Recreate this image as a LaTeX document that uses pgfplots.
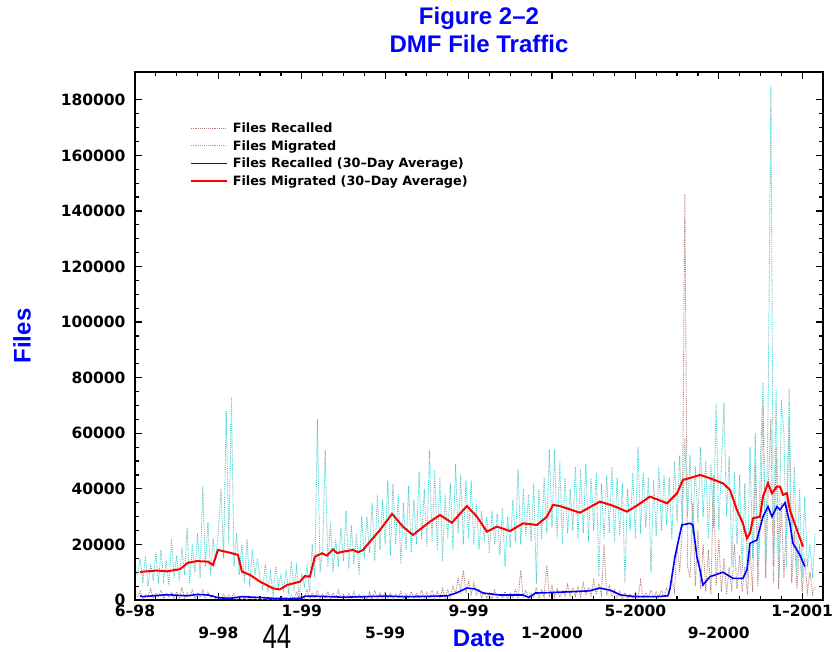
\documentclass[border=0pt]{standalone}
\usepackage{fontspec}
\usepackage{pgfplots}
\usepackage{pgfplotstable}
\pgfplotsset{compat=1.18}
\newfontfamily\djv{DejaVu Sans}
\newfontfamily\lib{Liberation Sans}
\definecolor{migc}{RGB}{68,204,204}
\definecolor{recc}{RGB}{176,128,120}
\definecolor{tblue}{RGB}{0,0,255}

\pgfplotstableread{
x mig rec
0.125 9000 1000
0.25 15000 3000
0.375 6000 500
0.5 16000 2000
0.625 5000 1500
0.75 13000 4000
0.875 7000 800
1.0 17000 2500
1.125 6000 1200
1.25 18000 3500
1.375 7000 500
1.5 14000 2200
1.625 5000 1000
1.75 22000 2800
1.875 8000 600
2.0 16000 3000
2.125 7000 900
2.25 19000 4500
2.375 9000 700
2.5 26000 2600
2.625 6000 1200
2.75 20000 3800
2.875 10000 500
3.0 24000 2400
3.125 8000 1000
3.25 41000 3500
3.375 12000 600
3.5 28000 2800
3.625 9000 800
3.75 22000 2000
3.875 14000 500
4.0 25000 1500
4.125 40000 400
4.25 15000 2200
4.375 68000 300
4.5 20000 1800
4.625 73000 500
4.75 12000 2500
4.875 24000 300
5.0 9000 1200
5.125 20000 200
5.25 6000 800
5.375 22000 100
5.5 5000 1000
5.625 18000 300
5.75 9000 900
5.875 15000 200
6.0 8000 600
6.125 4000 100
6.25 13000 600
6.375 3000 50
6.5 10000 500
6.625 2000 200
6.75 12000 400
6.875 5000 100
7.0 9000 800
7.125 3000 100
7.25 11000 500
7.375 2000 200
7.5 14000 1500
7.625 4000 300
7.75 12000 3000
7.875 1000 200
8.0 9000 2000
8.125 5000 500
8.25 12000 4000
8.375 3000 300
8.5 20000 2500
8.625 8000 800
8.75 65000 3500
8.875 10000 400
9.0 18000 2000
9.125 54000 600
9.25 12000 3000
9.375 28000 400
9.5 10000 2500
9.625 22000 700
9.75 12000 3500
9.875 26000 500
10.0 14000 2000
10.125 32000 300
10.25 11000 2500
10.375 27000 400
10.5 13000 3000
10.625 24000 600
10.75 9000 2000
10.875 30000 300
11.0 15000 1500
11.125 30000 500
11.25 17000 2800
11.375 35000 300
11.5 14000 3500
11.625 38000 600
11.75 18000 2500
11.875 36000 400
12.0 20000 3000
12.125 43000 500
12.25 16000 2500
12.375 42000 300
12.5 20000 2000
12.625 38000 700
12.75 13000 3000
12.875 35000 400
13.0 18000 2200
13.125 41000 600
13.25 17000 3000
13.375 36000 500
13.5 20000 2500
13.625 46000 800
13.75 22000 3500
13.875 40000 500
14.0 19000 2800
14.125 54000 700
14.25 21000 3500
14.375 47000 600
14.5 18000 3000
14.625 44000 900
14.75 14000 4000
14.875 38000 700
15.0 22000 3800
15.125 42000 1000
15.25 18000 5000
15.375 49000 2000
15.5 24000 8000
15.625 45000 3000
15.75 20000 10800
15.875 43000 2500
16.0 22000 7000
16.125 43000 2000
16.25 20000 6000
16.375 35000 1500
16.5 18000 4000
16.625 32000 900
16.75 22000 3000
16.875 30000 700
17.0 17000 2500
17.125 32000 500
17.25 20000 3500
17.375 31000 600
17.5 16000 2000
17.625 33000 800
17.75 12000 3000
17.875 30000 500
18.0 19000 2500
18.125 36000 800
18.25 21000 4000
18.375 47000 600
18.5 20000 10800
18.625 40000 700
18.75 23000 3500
18.875 38000 900
19.0 21000 2500
19.125 42000 1000
19.25 6000 4500
19.375 40000 800
19.5 22000 3500
19.625 44000 1200
19.75 24000 12600
19.875 54000 1500
20.0 26000 5000
20.125 54000 1200
20.25 22000 4000
20.375 50000 1000
20.5 20000 3500
20.625 44000 1400
20.75 24000 5500
20.875 40000 1200
21.0 25000 4500
21.125 48000 1500
21.25 22000 5000
21.375 47000 1300
21.5 24000 6000
21.625 49000 1800
21.75 21000 4500
21.875 44000 1600
22.0 25000 7000
22.125 46000 2000
22.25 8400 6000
22.375 42000 1800
22.5 22000 20000
22.625 45000 1500
22.75 24000 5000
22.875 48000 1200
23.0 21000 3500
23.125 44000 700
23.25 23000 3000
23.375 42000 500
23.5 6000 2500
23.625 40000 600
23.75 25000 2000
23.875 46000 500
24.0 22000 3000
24.125 55000 800
24.25 24000 7000
24.375 46000 600
24.5 26000 2500
24.625 44000 900
24.75 10000 3500
24.875 43000 700
25.0 23000 2800
25.125 48000 800
25.25 25000 3500
25.375 45000 1000
25.5 27000 4500
25.625 44000 2000
25.75 22000 8000
25.875 50000 3000
26.0 28000 20000
26.125 52000 10000
26.25 26000 25000
26.375 58000 146000
26.5 30000 12000
26.625 52000 8000
26.75 24000 35000
26.875 48000 5000
27.0 28000 25000
27.125 55000 4000
27.25 30000 20000
27.375 50000 3000
27.5 22000 18000
27.625 49000 2000
27.75 26000 45000
27.875 71000 5000
28.0 25000 22000
28.125 48000 3000
28.25 71000 15000
28.375 30000 2000
28.5 52000 12000
28.625 12000 3000
28.75 46000 20000
28.875 20000 4000
29.0 45000 16000
29.125 10000 3000
29.25 42000 12000
29.375 8000 2000
29.5 55000 18000
29.625 15000 3000
29.75 60000 49000
29.875 12000 5000
30.0 50000 30000
30.125 78000 70000
30.25 10000 8000
30.375 74000 40000
30.5 185000 65000
30.625 12000 6000
30.75 76000 55000
30.875 8000 4000
31.0 72000 35000
31.125 60000 8000
31.25 12000 30000
31.375 76000 65000
31.5 20000 6000
31.625 48000 25000
31.75 10000 4000
31.875 40000 20000
32.0 8000 3000
32.125 37000 15000
32.25 12000 3000
32.375 20000 10000
32.5 8000 2000
32.625 24000 5000
}\daily

\begin{document}
\begin{tikzpicture}
\begin{axis}[name=ax, at={(0,0)}, anchor=south west,
  scale only axis, width=688pt, height=528pt,
  xmin=0, xmax=33, ymin=0, ymax=190000,
  axis line style={line width=1.2pt},
  every tick/.style={line width=1.2pt, black},
  tick align=inside,
  major tick length=7pt, minor tick length=4pt,
  xtick={0,8,16,24,32},
  xticklabels={6–98,1–99,9–99,5–2000,1–2001},
  xticklabel style={yshift=-1pt},
  minor x tick num=7,
  extra x ticks={4,12,20,28},
  extra x tick labels={9–98,5–99,1–2000,9–2000},
  extra x tick style={xticklabel style={yshift=-22pt}},
  ytick={0,20000,40000,60000,80000,100000,120000,140000,160000,180000},
  minor y tick num=3,
  scaled y ticks=false,
  yticklabel style={/pgf/number format/fixed, /pgf/number format/1000 sep={}, xshift=-6pt},
  /pgf/number format/assume math mode=true,
  tick label style={font=\djv\bfseries\fontsize{15.5}{15.5}\selectfont},
  legend style={draw=none, fill=none, at={(0.075,0.912)}, anchor=north west,
    font=\djv\bfseries\fontsize{12.8}{12.8}\selectfont, row sep=2.4pt, column sep=3pt},
  legend cell align=left,
  legend image code/.code={\draw[#1] (0pt,0pt) -- (36pt,0pt);},
]
\addplot[recc, densely dotted, line width=0.9pt] table[x=x,y=rec]{\daily};
\addlegendentry{Files Recalled}
\addplot[migc, densely dotted, line width=0.9pt] table[x=x,y=mig]{\daily};
\addlegendentry{Files Migrated}
\addplot[blue, line width=1.6pt] coordinates {
(0.24,1500)(0.38,1200)(1.53,1900)(2.5,1500)(3.0,2000)(3.5,1800)(4.0,800)(4.56,600)
(5.13,1200)(6.0,900)(6.62,600)(7.5,500)(8.0,700)(8.15,1400)(9.0,1300)(10.0,1000)
(11.0,1200)(12.0,1400)(13.0,1200)(14.0,1300)(15.0,1500)(15.4,2500)(15.92,4300)
(16.3,4000)(16.7,2500)(17.5,1800)(18.61,1800)(18.9,900)(19.2,2500)(20.0,2700)
(21.0,3000)(21.8,3300)(22.30,4300)(22.8,3500)(23.3,1800)(24.0,1200)(25.0,1200)
(25.56,1500)(25.66,4000)(25.90,15600)(26.23,27000)(26.62,27600)(26.76,27000)
(26.95,15600)(27.10,10800)(27.24,5400)(27.58,8400)(28.20,10000)(28.68,7800)
(29.16,7800)(29.35,10800)(29.50,20400)(29.83,21600)(30.12,30000)(30.36,33600)
(30.55,30000)(30.79,33600)(30.94,32500)(31.18,35000)(31.41,27600)(31.56,20400)
(31.89,16200)(32.13,12000)};
\addlegendentry{Files Recalled (30–Day Average)}
\addplot[red, line width=2pt] coordinates {
(0.24,10000)(0.38,10200)(1.06,10600)(1.53,10300)(2.16,11100)(2.54,13400)(2.97,14000)
(3.50,13800)(3.74,12600)(3.98,18000)(4.56,17000)(4.94,16200)(5.13,10200)(5.52,9000)
(6.00,6600)(6.62,4200)(6.95,3800)(7.29,5400)(7.91,6600)(8.15,8600)(8.39,8400)
(8.63,15600)(8.97,16800)(9.21,16000)(9.50,18200)(9.69,16900)(9.98,17400)(10.46,18000)
(10.70,17200)(10.94,18000)(11.27,21000)(11.75,25200)(12.33,31000)(12.85,26400)
(13.33,23400)(13.67,25400)(14.15,28200)(14.63,30600)(15.20,27800)(15.92,33800)
(16.40,30000)(16.88,24600)(17.36,26400)(17.99,24800)(18.61,27600)(19.28,27000)
(19.76,30000)(20.05,34200)(20.38,33800)(21.34,31400)(22.30,35400)(22.93,33900)
(23.60,31800)(24.08,34000)(24.70,37200)(25.52,34800)(26.00,38400)(26.28,43200)
(26.76,44200)(27.10,45000)(27.58,43800)(28.20,42000)(28.54,39600)(28.87,32400)
(29.16,27600)(29.35,22200)(29.50,24000)(29.64,29400)(29.98,30000)(30.12,37200)
(30.36,42000)(30.55,38400)(30.79,40800)(30.94,40800)(31.08,37800)(31.27,38400)
(31.41,32400)(31.75,25200)(32.04,19200)};
\addlegendentry{Files Migrated (30–Day Average)}
\end{axis}
\node[font=\lib\bfseries\fontsize{24}{24}\selectfont, text=tblue, anchor=base] at ([yshift=47pt]ax.north) {Figure 2–2};
\node[font=\lib\bfseries\fontsize{24}{24}\selectfont, text=tblue, anchor=base] at ([yshift=19pt]ax.north) {DMF File Traffic};
\node[font=\lib\bfseries\fontsize{24}{24}\selectfont, text=tblue, anchor=base] at ([yshift=-47pt]ax.south) {Date};
\node[font=\lib\bfseries\fontsize{24}{24}\selectfont, text=tblue, rotate=90, anchor=center] at ([xshift=-113pt]ax.west) {Files};
\node[font=\lib\fontsize{34}{34}\selectfont, anchor=base, inner sep=0pt] at ([xshift=142pt,yshift=-49pt]ax.south west) {\scalebox{0.76}[1]{44}};
\pgfresetboundingbox
\path[use as bounding box] ([xshift=-135pt,yshift=-52pt]ax.south west) rectangle ([xshift=703pt,yshift=600pt]ax.south west);
\end{tikzpicture}
\end{document}
